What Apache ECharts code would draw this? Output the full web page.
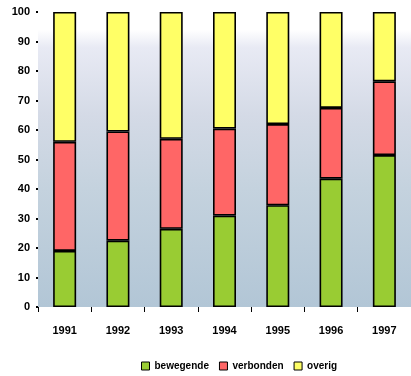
<!DOCTYPE html>
<html><head><meta charset="utf-8">
<script src="https://cdn.jsdelivr.net/npm/echarts@6/dist/echarts.min.js"></script>
<style>html,body{margin:0;padding:0;background:#fff}#c{width:411px;height:376px}</style>
</head><body><div id="c"></div>
<script>
const years = ['1991','1992','1993','1994','1995','1996','1997'];
const seriesNames = ['bewegende','verbonden','overig'];
const greenVals = [19, 22.5, 26.5, 31, 34.5, 43.5, 51.5];
const redVals = [37, 37, 30.5, 29.5, 27.5, 24, 25];
const yellowVals = [44, 40.5, 43, 39.5, 38, 32.5, 23.5];
const yTicks = [0,10,20,30,40,50,60,70,80,90,100];

const colors = ['#99cc33','#ff6666','#ffff66'];
const chart = echarts.init(document.getElementById('c'));
const font = {fontFamily:'Liberation Sans, Arial, sans-serif', fontWeight:'bold', color:'#000', fontSize:11};
function s(name, data, i){
  return {name, type:'bar', stack:'a', data, barWidth:23,
    itemStyle:{color:colors[i], borderColor:'#000', borderWidth:1.6}};
}
chart.setOption({
  animation:false,
  grid:{left:38, width:373, top:12, height:295, show:true, borderWidth:0,
    backgroundColor:new echarts.graphic.LinearGradient(0,0,0,1,[
      {offset:0,color:'#ffffff'},{offset:0.06,color:'#ffffff'},
      {offset:0.12,color:'#e8eaf4'},{offset:0.35,color:'#d4dae6'},
      {offset:0.6,color:'#c4d2de'},{offset:1,color:'#b2c6d6'}])},
  legend:{data:seriesNames, top:356, left:136, itemWidth:8, itemHeight:8, itemGap:10,
    icon:'rect', itemStyle:{borderWidth:1, borderColor:'#000'},
    textStyle:Object.assign({}, font, {fontSize:10})},
  xAxis:{type:'category', data:years,
    axisLine:{show:false},
    axisTick:{show:true, length:5, lineStyle:{color:'#000'}, alignWithLabel:false},
    axisLabel:Object.assign({margin:18}, font)},
  yAxis:{type:'value', min:yTicks[0], max:yTicks[yTicks.length-1], interval:10,
    splitLine:{show:false},
    axisLine:{show:false},
    axisTick:{show:true, length:2, lineStyle:{color:'#000', width:2}},
    axisLabel:Object.assign({margin:8}, font)},
  series:[s(seriesNames[0],greenVals,0), s(seriesNames[1],redVals,1), s(seriesNames[2],yellowVals,2)]
});
</script></body></html>
